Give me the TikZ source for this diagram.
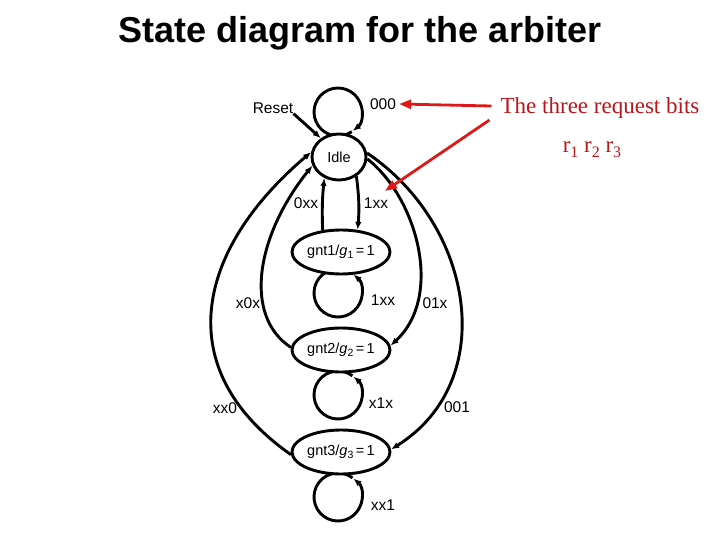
\documentclass[tikz,border=0pt]{standalone}
\usepackage{fontspec}
\setmainfont{Liberation Sans}
\newfontfamily\serifred{Liberation Serif}
\usetikzlibrary{arrows.meta,shapes.geometric}
\definecolor{arrred}{RGB}{222,24,24}
\definecolor{txtred}{RGB}{185,22,28}
\newcommand{\sbs}[1]{\raisebox{-0.35ex}{\fontsize{10.5}{11}\selectfont #1}}
\newcommand{\rsub}[1]{\raisebox{-0.45ex}{\fontsize{16}{16}\selectfont #1}}
\begin{document}
\begin{tikzpicture}[x=1pt,y=-1pt,
  every node/.style={font=\fontsize{15.5}{17}\selectfont, inner sep=0pt},
  state/.style={draw, line width=2.9pt, ellipse, fill=white, font=\fontsize{14.5}{16}\selectfont},
  gstate/.style={state, minimum width=98pt, minimum height=44pt},
  edge line/.style={line width=2.9pt, -{Latex[length=8pt,width=6.5pt]}},
  redarrow/.style={line width=2.8pt, draw=arrred, -{Triangle[length=12pt,width=9pt]}},
  title/.style={font=\fontsize{36}{40}\selectfont\bfseries},
  redtext/.style={text=txtred, font=\serifred\fontsize{23}{26}\selectfont}]
\useasboundingbox (0,0) rectangle (720,540);
\node[title] (title) at (360,33) {State diagram for the arbiter};
% loop centres
\coordinate (c0) at (338,112);
\coordinate (c1) at (338,293);
\coordinate (c2) at (338,395);
\coordinate (c3) at (338,497);
\draw[edge line] ([shift={(55:24)}]c0) arc[start angle=55, end angle=412, radius=24];
\foreach \c in {c1,c2,c3}
  \draw[edge line] ([shift={(307:24)}]\c) arc[start angle=307, end angle=-50, radius=24];
% states
\node[state, minimum width=54pt, minimum height=46pt] (idle) at (339,157) {Idle};
\node[gstate] (g1) at (341,252) {gnt1/\textit{g}\sbs{1}\,=\,1};
\node[gstate] (g2) at (341,350) {gnt2/\textit{g}\sbs{2}\,=\,1};
\node[gstate] (g3) at (341,452) {gnt3/\textit{g}\sbs{3}\,=\,1};
% labels
\node (reset) at (273,108) {Reset};
\node (l000) at (383,104) {000};
\node (l0xx) at (306,203) {0xx};
\node (l1xx) at (376,203) {1xx};
\node (ll1) at (383,300) {1xx};
\node (lx0x) at (248,303) {x0x};
\node (l01x) at (435,303) {01x};
\node (lx1x) at (381,403) {x1x};
\node (lxx0) at (225,408) {xx0};
\node (l001) at (457,407) {001};
\node (lxx1) at (383,505) {xx1};
% edges
\draw[edge line] (reset.south east) -- (idle.134);
\draw[edge line] (idle.-48) to[bend left=6] (g1.53);
\draw[edge line] (g1.130) to[bend left=4] (idle.235);
\draw[edge line] (g2.177) .. controls (243,316) and (256,236) .. (idle.198);
\draw[edge line] (g3.183) .. controls (169,369) and (196,250) .. (idle.170);
\draw[edge line] (idle.-4) .. controls (417,198) and (444,296) .. (g2.5);
\draw[edge line] (idle.8) .. controls (474,225) and (500,381) .. (g3.3);
% red annotation
\node[redtext] (bits) at (600,108) {The three request bits};
\node[redtext] (rbits) at (592,150) {r\rsub{1} r\rsub{2} r\rsub{3}};
\coordinate (tip) at (385,191);
\draw[redarrow] (bits.west) ++(-9,-2) -- ([xshift=3pt]l000.east);
\draw[redarrow] (bits.west) ++(-11,12) -- (tip);
\end{tikzpicture}
\end{document}
